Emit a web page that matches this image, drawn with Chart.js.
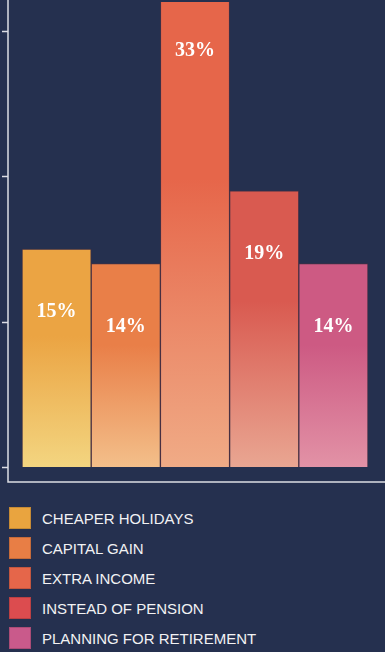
<!DOCTYPE html>
<html>
<head>
<meta charset="utf-8">
<script src="https://cdn.jsdelivr.net/npm/chart.js@4"></script>
<style>
  html, body { margin: 0; padding: 0; background: #25304f; }
  body { width: 385px; height: 652px; overflow: hidden; }
  #wrap { position: relative; width: 385px; height: 490px; }
  #legend { list-style: none; margin: 0; padding: 0; position: absolute; top: 507px; left: 9px; }
  #legend li { height: 30px; display: flex; align-items: flex-start; }
  #legend .sw { width: 22px; height: 22px; box-sizing: border-box; border: 1px solid rgba(0,0,0,0.15); }
  #legend .tx { margin-left: 11px; font-family: "Liberation Sans", Arial, sans-serif; font-size: 15px; line-height: 23px; color: #f2f2f4; }
</style>
</head>
<body>
<div id="wrap"><canvas id="barChart" width="385" height="490"></canvas></div>
<ul id="legend"></ul>
<script>
// Chart data
const categories = ['CHEAPER HOLIDAYS', 'CAPITAL GAIN', 'EXTRA INCOME', 'INSTEAD OF PENSION', 'PLANNING FOR RETIREMENT'];
const shares = [15, 14, 33, 19, 14];
const yTicks = [0, 10, 20, 30];

// top colour / faded bottom colour for each bar
const topColors = ['#eba443', '#e97f48', '#e6664a', '#d95a50', '#cd5a83'];
const bottomColors = ['#f3d580', '#f3bf8a', '#f0ab86', '#e9a692', '#e292a6'];
const legendColors = ['#e9a43f', '#e87e45', '#e5664a', '#dc4c4f', '#c95a8b'];

// Build the legend
const legendEl = document.getElementById('legend');
categories.forEach((name, i) => {
    const li = document.createElement('li');
    li.innerHTML = '<span class="sw" style="background:' + legendColors[i] + '"></span><span class="tx">' + name + '</span>';
    legendEl.appendChild(li);
});

// Axis lines and tick marks drawn off the chart area
const axesPlugin = {
    id: 'axes',
    beforeDatasetsDraw(chart) {
        const c = chart.ctx;
        const area = chart.chartArea;
        const y = chart.scales.y;
        const axisX = area.left - 14;
        const axisY = area.bottom + 15;
        c.save();
        c.strokeStyle = '#dcdde4';
        c.lineWidth = 1.5;
        c.beginPath();
        c.moveTo(axisX, 0);
        c.lineTo(axisX, axisY);
        c.lineTo(chart.width, axisY);
        c.stroke();
        yTicks.forEach(v => {
            const py = Math.round(y.getPixelForValue(v)) + 0.5;
            c.beginPath();
            c.moveTo(axisX - 6, py);
            c.lineTo(axisX, py);
            c.stroke();
        });
        c.restore();
    }
};

// Percentage labels inside the bars
const labelPlugin = {
    id: 'barLabels',
    afterDatasetsDraw(chart) {
        const c = chart.ctx;
        const meta = chart.getDatasetMeta(0);
        c.save();
        c.fillStyle = '#ffffff';
        c.font = 'bold 20px "Liberation Serif", "DejaVu Serif", serif';
        c.textAlign = 'center';
        c.textBaseline = 'middle';
        meta.data.forEach((bar, i) => {
            c.fillText(shares[i] + '%', bar.x, bar.y + 63);
        });
        c.restore();
    }
};

function barGradient(context) {
    const chart = context.chart;
    const area = chart.chartArea;
    if (!area) return topColors[context.dataIndex];
    const y = chart.scales.y;
    const top = y.getPixelForValue(context.raw);
    const bottom = y.getPixelForValue(0);
    const g = chart.ctx.createLinearGradient(0, top, 0, bottom);
    g.addColorStop(0, topColors[context.dataIndex]);
    g.addColorStop(0.4, topColors[context.dataIndex]);
    g.addColorStop(1, bottomColors[context.dataIndex]);
    return g;
}

const ctx = document.getElementById('barChart').getContext('2d');
const myChart = new Chart(ctx, {
    type: 'bar',
    data: {
        labels: categories,
        datasets: [{
            data: shares,
            backgroundColor: barGradient,
            borderColor: 'rgba(120, 50, 50, 0.35)',
            borderWidth: 1,
            categoryPercentage: 1,
            barPercentage: 1
        }]
    },
    options: {
        responsive: false,
        animation: false,
        devicePixelRatio: 1,
        layout: { padding: { left: 22, right: 17, top: 2, bottom: 23 } },
        plugins: { legend: { display: false }, tooltip: { enabled: false } },
        scales: {
            x: { display: false },
            y: { display: false, min: 0, max: 32 }
        }
    },
    plugins: [axesPlugin, labelPlugin]
});
</script>
</body>
</html>
